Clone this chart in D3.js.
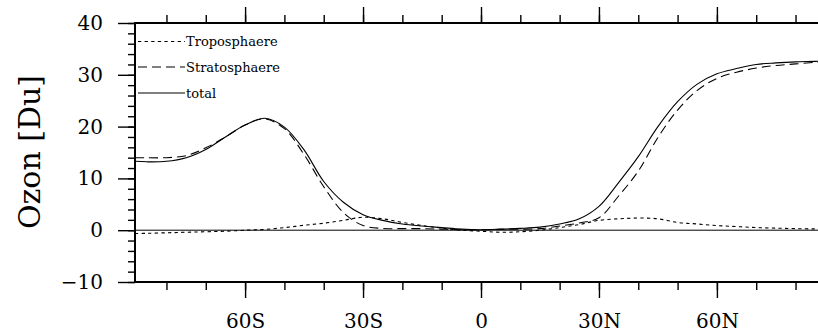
<!DOCTYPE html>
<html>
<head>
<meta charset="utf-8">
<script src="https://cdn.jsdelivr.net/npm/d3@7"></script>
<style>
  body { margin: 0; background: #fff; }
  svg { display: block; }
  text { font-family: "DejaVu Serif", serif; fill: #000; }
</style>
</head>
<body>
<div id="chart"></div>
<script>
const w = 818;
const h = 334;

// latitude (deg), negative = south
const lats = [-88, -85, -80, -75, -70, -65, -60, -55, -50, -45, -40, -35, -30, -25, -20, -15, -10, -5,
              0, 5, 10, 15, 20, 25, 30, 35, 40, 45, 50, 55, 60, 65, 70, 75, 80, 85, 88];

const tropo  = [-0.65, -0.6, -0.5, -0.4, -0.3, -0.2, 0.0, 0.15, 0.5, 0.95, 1.35, 1.9, 2.5, 2.2, 1.5, 0.9, 0.4, 0.0,
                -0.2, -0.4, -0.3, 0.0, 0.5, 1.1, 1.9, 2.2, 2.35, 2.2, 1.5, 1.2, 0.9, 0.7, 0.5, 0.4, 0.3, 0.25, 0.25];

const strato = [14.0, 14.0, 14.0, 14.4, 15.9, 18.0, 20.3, 21.5, 19.6, 14.6, 8.4, 3.4, 0.9, 0.35, 0.3, 0.3, 0.2, 0.1,
                0.1, 0.15, 0.2, 0.3, 0.8, 1.4, 2.4, 6.6, 11.4, 17.9, 23.2, 27.0, 29.3, 30.5, 31.3, 31.8, 32.1, 32.4, 32.5];

const total  = [13.3, 13.2, 13.3, 14.0, 15.6, 18.0, 20.3, 21.6, 19.9, 15.5, 9.4, 5.4, 3.0, 1.9, 1.2, 0.8, 0.5, 0.2,
                0.1, 0.2, 0.35, 0.6, 1.2, 2.2, 4.6, 9.2, 14.2, 20.0, 24.8, 28.2, 30.2, 31.2, 32.0, 32.3, 32.5, 32.6, 32.7];

const seriesNames = ["Troposphaere", "Stratosphaere", "total"];
const seriesDash = ["3.3,3.3", "9,5", null];

const yTicks = [-10, 0, 10, 20, 30, 40];
const xTicks = [-60, -30, 0, 30, 60];
const xTickLabels = ["60S", "30S", "0", "30N", "60N"];

const xScale = d3.scaleLinear().domain([-88, 88]).range([135, 827]);
const yScale = d3.scaleLinear().domain([-10, 40]).range([282, 23]);

const svg = d3.select("#chart").append("svg")
    .attr("width", w)
    .attr("height", h);

// minor ticks
const yMinor = d3.range(-10, 41, 2);
const xMinor = d3.range(-80, 81, 10);

svg.append("g")
    .attr("transform", "translate(" + xScale.range()[0] + ",0)")
    .call(d3.axisLeft(yScale).tickValues(yMinor).tickSize(7).tickFormat(""));
svg.append("g")
    .attr("transform", "translate(0," + yScale.range()[0] + ")")
    .call(d3.axisBottom(xScale).tickValues(xMinor).tickSize(8).tickFormat(""));
svg.append("g")
    .attr("transform", "translate(0," + yScale.range()[1] + ")")
    .call(d3.axisTop(xScale).tickValues(xMinor).tickSize(8).tickFormat(""));

// major ticks + labels
svg.append("g")
    .attr("class", "ylab")
    .attr("transform", "translate(" + xScale.range()[0] + ",0)")
    .call(d3.axisLeft(yScale).tickValues(yTicks).tickSize(17).tickPadding(15)
        .tickFormat(d => d < 0 ? "\u2212" + Math.abs(d) : d));
svg.append("g")
    .attr("class", "xlab")
    .attr("transform", "translate(0," + yScale.range()[0] + ")")
    .call(d3.axisBottom(xScale).tickValues(xTicks).tickSize(16).tickPadding(16)
        .tickFormat((d, i) => xTickLabels[i]));
svg.append("g")
    .attr("transform", "translate(0," + yScale.range()[1] + ")")
    .call(d3.axisTop(xScale).tickValues(xTicks).tickSize(16).tickFormat(""));

svg.selectAll(".domain").remove();
svg.selectAll(".tick line").attr("stroke", "#000").attr("stroke-width", 1.4);
svg.selectAll(".ylab text, .xlab text")
    .style("font-family", "'DejaVu Serif', serif")
    .style("font-size", "20px")
    .attr("fill", "#000");

// zero line
svg.append("line")
    .attr("x1", xScale.range()[0]).attr("x2", xScale.range()[1])
    .attr("y1", yScale(0)).attr("y2", yScale(0))
    .attr("stroke", "#000").attr("stroke-width", 1);

// curves
const series = [tropo, strato, total];
const line = d3.line()
    .x((d, i) => xScale(lats[i]))
    .y(d => yScale(d))
    .curve(d3.curveCatmullRom.alpha(0.5));

series.forEach((s, k) => {
    svg.append("path")
        .datum(s)
        .attr("d", line)
        .attr("fill", "none")
        .attr("stroke", "#000")
        .attr("stroke-width", 1.1)
        .attr("stroke-dasharray", seriesDash[k]);
});

// frame
svg.append("rect")
    .attr("x", xScale.range()[0])
    .attr("y", yScale.range()[1])
    .attr("width", xScale.range()[1] - xScale.range()[0])
    .attr("height", yScale.range()[0] - yScale.range()[1])
    .attr("fill", "none")
    .attr("stroke", "#000")
    .attr("stroke-width", 2);

// legend
const legendY = [41.5, 67, 93];
seriesNames.forEach((name, k) => {
    svg.append("line")
        .attr("x1", 138).attr("x2", 185)
        .attr("y1", legendY[k]).attr("y2", legendY[k])
        .attr("stroke", "#000")
        .attr("stroke-width", 1.1)
        .attr("stroke-dasharray", seriesDash[k]);
    svg.append("text")
        .attr("x", 186)
        .attr("y", legendY[k])
        .attr("dy", "0.35em")
        .style("font-size", "13px")
        .text(name);
});

// y axis title
svg.append("text")
    .attr("transform", "translate(40,152) rotate(-90)")
    .attr("text-anchor", "middle")
    .style("font-size", "30px")
    .text("Ozon [Du]");
</script>
</body>
</html>
